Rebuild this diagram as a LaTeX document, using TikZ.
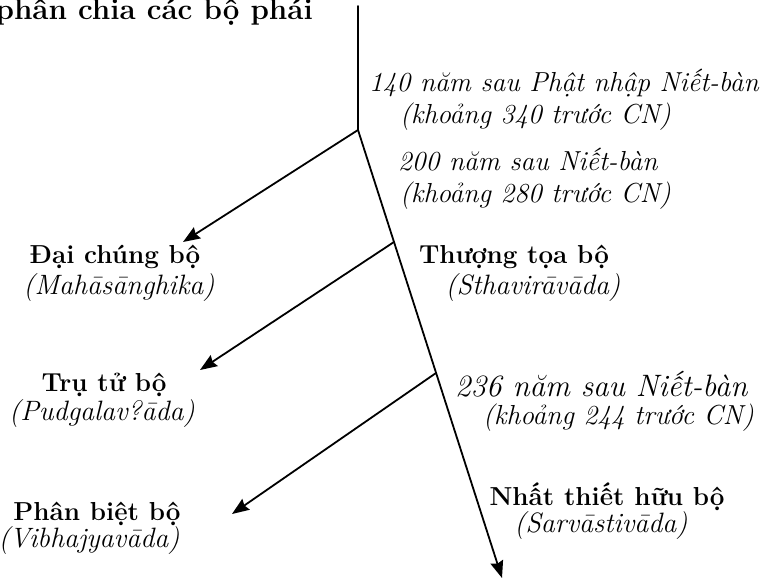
\documentclass[tikz,border=0pt]{standalone}
\usepackage{fontspec}
\setmainfont{Latin Modern Roman}
\usetikzlibrary{arrows.meta}
\tikzset{
  line/.style={line width=1.8pt, line cap=round},
  arr/.style={line, -{Stealth[length=17pt,width=13pt,inset=2pt]}},
  lbl/.style={font=\fontsize{26}{30}\selectfont\bfseries, inner sep=0pt},
  sub/.style={font=\fontsize{28}{32}\selectfont\itshape, inner sep=0pt},
  note/.style={font=\fontsize{27.5}{32}\selectfont\itshape, inner sep=0pt, anchor=west},
}
\begin{document}
\begin{tikzpicture}[x=1pt,y=-1pt]
\useasboundingbox (0,0) rectangle (779,580);
% title (cut at left edge)
\node[font=\fontsize{29.5}{34}\selectfont\bfseries, inner sep=0pt, anchor=east] (title) at (313,12) {phân chia các bộ phái};
% structure
\coordinate (top) at (358,6);
\coordinate (j1) at (358,130);
\coordinate (j2) at (394,242);
\coordinate (j3) at (436,373);
\coordinate (e0) at (502,578);
\coordinate (e1) at (183,242);
\coordinate (e2) at (200,370);
\coordinate (e3) at (232,514);
\draw[line] (top) -- (j1);
\draw[arr] (j1) -- (e0);
\draw[arr] (j1) -- (e1);
\draw[arr] (j2) -- (e2);
\draw[arr] (j3) -- (e3);
% notes
\node[note] (n1a) at (369,83) {140 năm sau Phật nhập Niết-bàn};
\node[note] (n1b) at (400,117) {(khoảng 340 trước CN)};
\node[note] (n2a) at (398,160) {200 năm sau Niết-bàn};
\node[note] (n2b) at (400,196) {(khoảng 280 trước CN)};
\node[note, font=\fontsize{31}{36}\selectfont\itshape] (n3a) at (455,384) {236 năm sau Niết-bàn};
\node[note] (n3b) at (483,418) {(khoảng 244 trước CN)};
% schools
\node[lbl] (dai) at (115,257) {Đại chúng bộ};
\node[sub] (dais) at (119,288) {(Mahāsānghika)};
\node[lbl] (thuong) at (514,257) {Thượng tọa bộ};
\node[sub] (thuongs) at (533,288) {(Sthavirāvāda)};
\node[lbl] (tru) at (104,385) {Trụ tử bộ};
\node[sub] (trus) at (102,414) {(Pudgalav?āda)};
\node[lbl] (phan) at (97,514) {Phân biệt bộ};
\node[sub] (phans) at (89,541) {(Vibhajyavāda)};
\node[lbl] (nhat) at (607,497) {Nhất thiết hữu bộ};
\node[sub] (nhats) at (601,526) {(Sarvāstivāda)};
\end{tikzpicture}
\end{document}
